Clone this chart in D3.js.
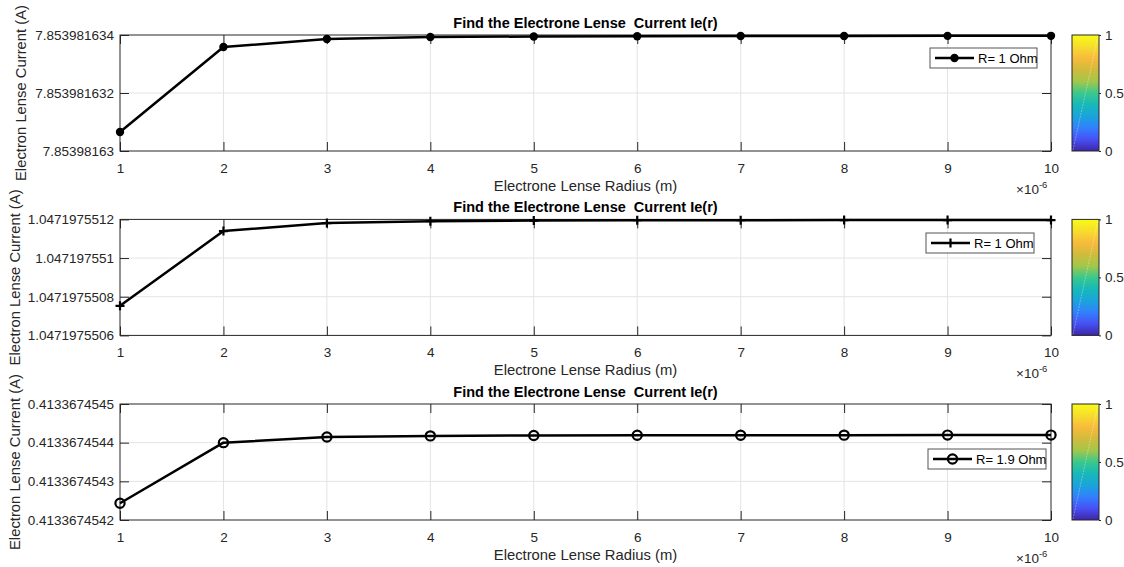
<!DOCTYPE html>
<html>
<head>
<meta charset="utf-8">
<script src="https://cdn.jsdelivr.net/npm/d3@7"></script>
<style>
  body { margin: 0; background: #fff; }
  svg { display: block; font-family: "Liberation Sans", Arial, sans-serif; }
</style>
</head>
<body>
<div id="chart"></div>
<script>
// radius values, shown in units of 1e-6 m
var radius = [1, 2, 3, 4, 5, 6, 7, 8, 9, 10];
var xTicks = [1, 2, 3, 4, 5, 6, 7, 8, 9, 10];

// current
var current1 = [7.8539816306552, 7.853981633586, 7.853981633862, 7.853981633931, 7.853981633948,
                7.853981633959, 7.853981633965, 7.853981633968, 7.85398163397, 7.853981633971];
var current2 = [1.0471975507531, 1.0471975511395, 1.047197551181, 1.047197551191, 1.047197551194,
                1.0471975511955, 1.047197551196, 1.0471975511963, 1.0471975511964, 1.0471975511965];
var current3 = [0.4133674542432, 0.41336745440, 0.4133674544147, 0.4133674544175, 0.4133674544185,
                0.413367454419, 0.4133674544193, 0.4133674544195, 0.4133674544196, 0.4133674544196];

var yTicks1 = [7.85398163, 7.853981632, 7.853981634];
var yLabels1 = ["7.85398163", "7.853981632", "7.853981634"];
var yTicks2 = [1.0471975506, 1.0471975508, 1.047197551, 1.0471975512];
var yLabels2 = ["1.0471975506", "1.0471975508", "1.047197551", "1.0471975512"];
var yTicks3 = [0.4133674542, 0.4133674543, 0.4133674544, 0.4133674545];
var yLabels3 = ["0.4133674542", "0.4133674543", "0.4133674544", "0.4133674545"];

var legendLabels = ["R= 1 Ohm", "R= 1 Ohm", "R= 1.9 Ohm"];
var markerKinds = ["dot", "plus", "ring"];
var colorbarTicks = [0, 0.5, 1];

var titleText = "Find the Electrone Lense  Current Ie(r)";
var xLabelText = "Electrone Lense Radius (m)";
var yLabelText = "Electron Lense Current (A)";

var width = 1124, height = 567;
var left = 120, right = 1051;
var panelTops = [35, 219.4, 404];
var panelH = 116;
var legendBoxes = [[930, 48, 107], [926, 233, 108], [928, 449, 118]];
var yLabelX = [21, 15, 15];
var ink = "#262626";

var parula = ["#3e26a8", "#4750f4", "#3280fd", "#1aa4db", "#17b9b8", "#3ac88c",
              "#a3c74a", "#d1bb3b", "#f8bb3c", "#f6dd2d", "#f9fb15"];

var svg = d3.select("#chart").append("svg")
    .attr("width", width).attr("height", height);

var defs = svg.append("defs");
var grad = defs.append("linearGradient")
    .attr("id", "parula")
    .attr("x1", 0).attr("y1", 1).attr("x2", 0).attr("y2", 0);
grad.selectAll("stop").data(parula).enter().append("stop")
    .attr("offset", function(d, i) { return i / (parula.length - 1); })
    .attr("stop-color", function(d) { return d; });

var panels = [
    {values: current1, ticks: yTicks1, labels: yLabels1},
    {values: current2, ticks: yTicks2, labels: yLabels2},
    {values: current3, ticks: yTicks3, labels: yLabels3}
];

function drawMarker(g, kind, cx, cy) {
    if (kind === "dot") {
        g.append("circle").attr("cx", cx).attr("cy", cy).attr("r", 4.2).attr("fill", "#000");
    } else if (kind === "plus") {
        g.append("path")
            .attr("d", `M${cx - 4.5},${cy}H${cx + 4.5}M${cx},${cy - 4.5}V${cy + 4.5}`)
            .attr("stroke", "#000").attr("stroke-width", 2.2);
    } else {
        g.append("circle").attr("cx", cx).attr("cy", cy).attr("r", 4.6)
            .attr("fill", "none").attr("stroke", "#000").attr("stroke-width", 2.2);
    }
}

function generatePanel(p, i) {
    var top = panelTops[i], bottom = top + panelH;
    var x = d3.scaleLinear().domain([1, 10]).range([left, right]);
    var y = d3.scaleLinear().domain([p.ticks[0], p.ticks[p.ticks.length - 1]]).range([bottom, top]);
    var g = svg.append("g").attr("class", "panel");

    // grid
    g.append("g").selectAll("line").data(xTicks.slice(1, -1)).enter().append("line")
        .attr("x1", function(d) { return x(d); }).attr("x2", function(d) { return x(d); })
        .attr("y1", top).attr("y2", bottom)
        .attr("stroke", "#e3e3e3").attr("stroke-width", 1);
    g.append("g").selectAll("line").data(p.ticks.slice(1, -1)).enter().append("line")
        .attr("x1", left).attr("x2", right)
        .attr("y1", function(d) { return y(d); }).attr("y2", function(d) { return y(d); })
        .attr("stroke", "#e3e3e3").attr("stroke-width", 1);

    // axes with inward ticks on all sides
    var tickLen = 9;
    g.append("g").attr("transform", `translate(0,${bottom})`)
        .call(d3.axisBottom(x).tickValues(xTicks).tickSizeInner(-tickLen).tickSizeOuter(0).tickPadding(12))
        .call(styleAxis);
    g.append("g").attr("transform", `translate(0,${top})`)
        .call(d3.axisTop(x).tickValues(xTicks).tickSizeInner(-tickLen).tickSizeOuter(0).tickFormat(""))
        .call(styleAxis);
    g.append("g").attr("transform", `translate(${left},0)`)
        .call(d3.axisLeft(y).tickValues(p.ticks).tickSizeInner(-tickLen).tickSizeOuter(0)
            .tickPadding(6).tickFormat(function(d, j) { return p.labels[j]; }))
        .call(styleAxis);
    g.append("g").attr("transform", `translate(${right},0)`)
        .call(d3.axisRight(y).tickValues(p.ticks).tickSizeInner(-tickLen).tickSizeOuter(0).tickFormat(""))
        .call(styleAxis);
    g.append("rect").attr("x", left).attr("y", top).attr("width", right - left).attr("height", panelH)
        .attr("fill", "none").attr("stroke", ink).attr("stroke-width", 1);

    // series
    var line = d3.line().x(function(d, j) { return x(radius[j]); }).y(function(d) { return y(d); });
    g.append("path").datum(p.values).attr("d", line)
        .attr("fill", "none").attr("stroke", "#000").attr("stroke-width", 2.5)
        .attr("stroke-linejoin", "round");
    var mk = g.append("g");
    p.values.forEach(function(v, j) { drawMarker(mk, markerKinds[i], x(radius[j]), y(v)); });

    // title and labels
    g.append("text").attr("x", (left + right) / 2).attr("y", top - 7)
        .attr("text-anchor", "middle").attr("font-size", 14.5).attr("font-weight", "bold")
        .style("white-space", "pre")
        .attr("fill", "#000").text(titleText);
    g.append("text").attr("x", (left + right) / 2).attr("y", bottom + 40)
        .attr("text-anchor", "middle").attr("font-size", 14.8).attr("fill", ink).text(xLabelText);
    var ex = g.append("text").attr("x", 1016).attr("y", bottom + 43)
        .attr("font-size", 13.5).attr("fill", ink);
    ex.append("tspan").text("\u00d710");
    ex.append("tspan").attr("dy", -6).attr("font-size", 9.5).text("-6");
    g.append("text")
        .attr("transform", `translate(${yLabelX[i]},${(top + bottom) / 2}) rotate(-90)`)
        .attr("text-anchor", "middle").attr("dy", "0.35em")
        .attr("font-size", 14.8).attr("fill", ink).text(yLabelText);

    // legend
    var lb = legendBoxes[i];
    var lg = g.append("g");
    lg.append("rect").attr("x", lb[0]).attr("y", lb[1]).attr("width", lb[2]).attr("height", 20)
        .attr("fill", "#fff").attr("stroke", "#555").attr("stroke-width", 1);
    lg.append("line").attr("x1", lb[0] + 5).attr("x2", lb[0] + 44)
        .attr("y1", lb[1] + 10).attr("y2", lb[1] + 10)
        .attr("stroke", "#000").attr("stroke-width", 2.5);
    drawMarker(lg, markerKinds[i], lb[0] + 24.5, lb[1] + 10);
    lg.append("text").attr("x", lb[0] + 48).attr("y", lb[1] + 14.5)
        .attr("font-size", 13).attr("fill", "#000").text(legendLabels[i]);

    // colorbar
    var c = d3.scaleLinear().domain([0, 1]).range([bottom, top]);
    var cb = g.append("g");
    cb.append("rect").attr("x", 1072).attr("y", top).attr("width", 27).attr("height", panelH)
        .attr("fill", "url(#parula)").attr("stroke", ink).attr("stroke-width", 1);
    cb.append("line").attr("x1", 1073).attr("y1", bottom - 1).attr("x2", 1098).attr("y2", top + 1)
        .attr("stroke", "#fff").attr("stroke-opacity", 0.45).attr("stroke-width", 0.7)
        .attr("stroke-dasharray", "2,1");
    cb.append("g").attr("transform", "translate(1099,0)")
        .call(d3.axisRight(c).tickValues(colorbarTicks).tickSizeInner(2).tickSizeOuter(0)
            .tickPadding(4).tickFormat(d3.format("")))
        .call(styleAxis);
}

function styleAxis(sel) {
    sel.select(".domain").remove();
    sel.selectAll(".tick line").attr("stroke", ink);
    sel.selectAll(".tick text").attr("fill", ink).attr("font-size", 13.5)
        .attr("font-family", "Liberation Sans, Arial, sans-serif");
}

panels.forEach(generatePanel);
</script>
</body>
</html>
